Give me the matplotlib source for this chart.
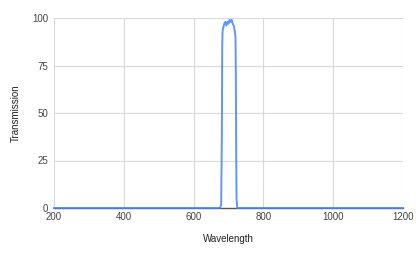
import numpy as np
import matplotlib.pyplot as plt

plt.rcParams['font.family'] = ['Liberation Sans', 'DejaVu Sans']

# Filter transmission curve
wavelength = [200, 400, 600, 676, 679, 681, 682, 683, 685, 688, 691, 694, 697,
              700, 703, 706, 709, 712, 715, 718, 720, 721, 722, 723, 725, 800,
              1000, 1200]
transmission = [0, 0, 0, 0, 2, 40, 85, 93, 95, 97, 98, 96, 98,
                97, 99, 98, 99, 97, 96, 93, 90, 70, 30, 5, 0, 0,
                0, 0]

x_ticks = [200, 400, 600, 800, 1000, 1200]
y_ticks = [0, 25, 50, 75, 100]

fig = plt.figure(figsize=(4.16, 2.57), dpi=100)
ax = fig.add_axes([54 / 416, 49 / 257, 349 / 416, 190 / 257])

ax.plot(wavelength, transmission, color='#4285f4', linewidth=1.4, zorder=3,
        solid_joinstyle='round', clip_on=False, alpha=0.85)

ax.set_xlim(200, 1200)
ax.set_ylim(0, 100)
ax.set_xticks(x_ticks)
ax.set_yticks(y_ticks)
ax.grid(True, color='#d9d9d9', linewidth=0.8)
ax.set_axisbelow(True)

for side in ['top', 'right', 'left']:
    ax.spines[side].set_visible(False)
ax.spines['bottom'].set_color('#555555')
ax.spines['bottom'].set_linewidth(1)
ax.spines['bottom'].set_zorder(2)

ax.tick_params(length=0, labelsize=7, colors='#444444', pad=3)
ax.tick_params(axis='y', pad=4)

ax.set_xlabel('Wavelength', fontsize=7, color='#222222', labelpad=8.5)
ax.set_ylabel('Transmission', fontsize=7, color='#222222', labelpad=8)

fig.savefig('out.png', dpi=100)
